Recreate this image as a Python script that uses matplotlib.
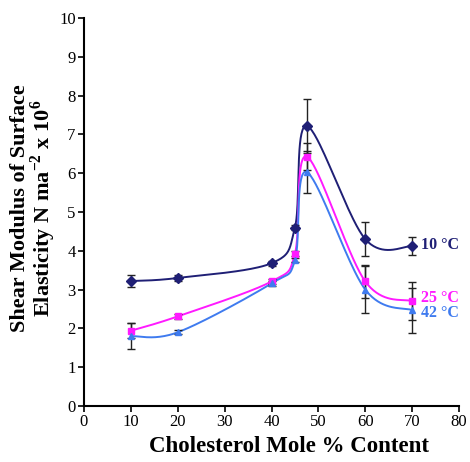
import numpy as np
import matplotlib
matplotlib.use("Agg")
import matplotlib.pyplot as plt

plt.rcParams['font.family'] = ['Liberation Serif', 'DejaVu Serif']
plt.rcParams['mathtext.fontset'] = 'custom'
plt.rcParams['mathtext.rm'] = 'Liberation Serif:bold'
plt.rcParams['mathtext.bf'] = 'Liberation Serif:bold'

cholesterol = [10, 20, 40, 45, 47.5, 60, 70]
g_10 = [3.22, 3.30, 3.68, 4.60, 7.22, 4.30, 4.12]
g_10_err = [0.15, 0.08, 0.06, 0.06, 0.70, 0.43, 0.24]
g_25 = [1.94, 2.31, 3.21, 3.93, 6.43, 3.21, 2.70]
g_25_err = [0.20, 0.06, 0.06, 0.06, 0.35, 0.42, 0.49]
g_42 = [1.80, 1.90, 3.16, 3.76, 6.03, 3.00, 2.47]
g_42_err = [0.33, 0.05, 0.06, 0.06, 0.55, 0.60, 0.58]
series_labels = ["10 °C", "25 °C", "42 °C"]
colors = ["#1f1f75", "#ff1aff", "#3f7bef"]
markers = ["D", "s", "^"]


def smooth(x, y, n=40):
    x = np.asarray(x, float)
    y = np.asarray(y, float)
    P = np.column_stack([x, y])
    P = np.vstack([P[0], P, P[-1]])
    out = []
    t = np.linspace(0, 1, n)
    for i in range(1, len(P) - 2):
        p0, p1, p2, p3 = P[i - 1], P[i], P[i + 1], P[i + 2]
        c1 = p1 + (p2 - p0) / 6.0
        c2 = p2 - (p3 - p1) / 6.0
        seg = ((1 - t)[:, None] ** 3 * p1 + 3 * ((1 - t) ** 2 * t)[:, None] * c1
               + 3 * ((1 - t) * t ** 2)[:, None] * c2 + (t ** 3)[:, None] * p2)
        out.append(seg)
    s = np.vstack(out)
    return s[:, 0], s[:, 1]


fig = plt.figure(figsize=(4.70, 4.62), dpi=100)
ax = fig.add_axes([0.1787, 0.1212, 0.798, 0.8398])

for ys, es, c, m in zip([g_10, g_25, g_42], [g_10_err, g_25_err, g_42_err], colors, markers):
    sx, sy = smooth(cholesterol, ys)
    ax.plot(sx, sy, color=c, lw=1.4, zorder=2)
    ax.errorbar(cholesterol, ys, yerr=es, fmt='none', ecolor='#222222',
                elinewidth=1.0, capsize=3, capthick=1.0, zorder=3)
    ax.plot(cholesterol, ys, ls='none', marker=m, color=c, ms=5, zorder=4)

label_y = [4.15, 2.78, 2.40]
for lab, yy, c in zip(series_labels, label_y, colors):
    ax.text(71.8, yy, lab, color=c, fontsize=11.5, fontweight='bold', va='center', ha='left')

ax.set_xlim(0, 80)
ax.set_ylim(0, 10)
ax.set_xticks(range(0, 81, 10))
ax.set_yticks(range(0, 11))
ax.spines['top'].set_visible(False)
ax.spines['right'].set_visible(False)
for s in ['left', 'bottom']:
    ax.spines[s].set_linewidth(1.5)
ax.tick_params(axis='both', direction='out', length=4, width=1.2, labelsize=12, pad=2)

fig.text(289 / 470, 1 - 446 / 462, "Cholesterol Mole % Content", fontsize=16.5,
         fontweight='bold', ha='center', va='center')
fig.text(34 / 470, 1 - 208 / 462,
         "Shear Modulus of Surface\nElasticity N ma$^{-2}$ x 10$^{6}$",
         fontsize=16, fontweight='bold', rotation=90, ha='center', va='center',
         linespacing=0.95, multialignment='center')

fig.savefig("out.png", dpi=100)
